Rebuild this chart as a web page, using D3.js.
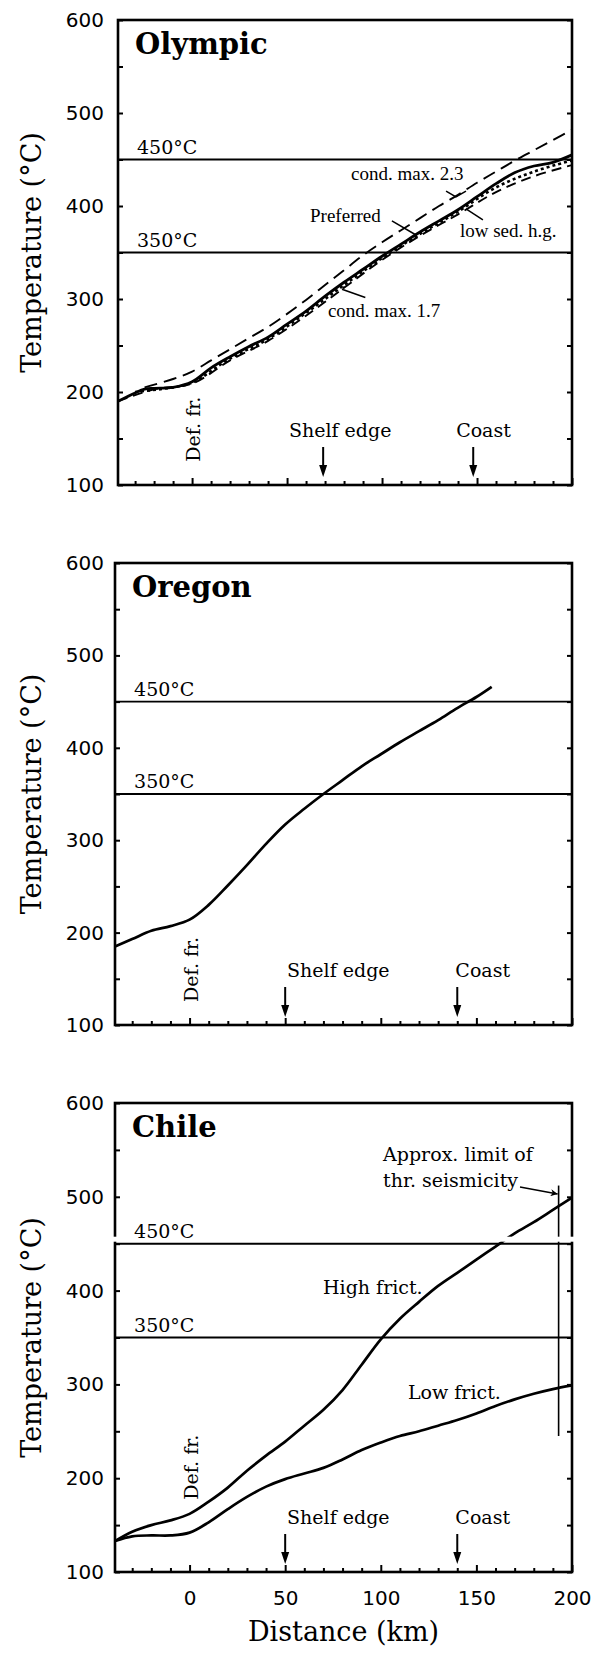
<!DOCTYPE html>
<html>
<head>
<meta charset="utf-8">
<script src="https://cdn.jsdelivr.net/npm/d3@7"></script>
<style>
  body { margin: 0; background: #fff; }
  svg { display: block; }
</style>
</head>
<body>
<svg id="chart" width="604" height="1653"></svg>
<script>
// ---------- data ----------
const distDomain = [-39, 200];
const tempDomain = [100, 600];
const tempTicks = [100, 150, 200, 250, 300, 350, 400, 450, 500, 550, 600];
const tempLabels = [100, 200, 300, 400, 500, 600];
const distMinorTicks = [-30, -20, -10, 10, 20, 30, 40, 60, 70, 80, 90, 110, 120, 130, 140, 160, 170, 180, 190];
const distMajorTicks = [0, 50, 100, 150, 200];
const isotherms = [350, 450];

// Olympic
const olympicDist = [-39, -30, -25, -20, -10, 0, 10, 20, 30, 40, 50, 60, 70, 80, 90, 100, 110, 120, 130, 140, 150, 160, 170, 180, 190, 200];
const olympicPreferred = [190, 199, 203, 204, 205, 211, 226, 238, 249, 259, 273, 287, 303, 318, 332, 346, 359, 372, 384, 396, 410, 424, 436, 443, 447, 455];
const olympicCond23Dist = [-25, -10, 0, 10, 20, 30, 40, 50, 60, 70, 80, 90, 100, 110, 120, 130, 140, 150, 160, 170, 180, 190, 200];
const olympicCond23 = [205, 214, 222, 234, 246, 258, 270, 284, 299, 315, 331, 347, 361, 374, 387, 400, 412, 425, 437, 449, 460, 471, 482];
const olympicCond17Dist = [-39, -20, 0, 20, 40, 60, 80, 100, 120, 140, 160, 180, 200];
const olympicCond17 = [190, 203, 209, 234, 255, 282, 312, 342, 368, 391, 415, 432, 444];
const olympicLowSedDist = [-30, -10, 0, 20, 40, 60, 80, 100, 120, 140, 160, 180, 200];
const olympicLowSed = [200, 205, 210, 236, 257, 285, 315, 344, 370, 394, 420, 437, 449];

// Oregon
const oregonDist = [-39, -30, -20, -10, 0, 10, 20, 30, 40, 50, 60, 70, 80, 90, 100, 110, 120, 130, 140, 150, 158];
const oregonTemp = [185, 193, 202, 207, 214, 230, 251, 273, 296, 317, 334, 350, 365, 380, 393, 406, 418, 430, 443, 455, 466];

// Chile
const chileDist = [-39, -30, -20, -10, 0, 10, 20, 30, 40, 50, 60, 70, 80, 90, 100, 110, 120, 130, 140, 150, 160, 170, 180, 190, 200];
const chileHighFrict = [133, 143, 150, 155, 162, 175, 190, 208, 224, 239, 256, 273, 294, 321, 348, 370, 388, 405, 419, 433, 447, 461, 473, 486, 499];
const chileLowFrict = [133, 138, 139, 139, 142, 153, 167, 180, 191, 199, 205, 211, 220, 230, 238, 245, 250, 256, 262, 269, 277, 284, 290, 295, 299];
const chileSeismicLimit = 193;            // km
const chileSeismicRange = [245, 512];     // °C span of the marker line

// Landmarks along the margin (km)
const olympicLandmarks = [{ label: "Shelf edge", at: 69, textAt: 51 }, { label: "Coast", at: 148, textAt: 139 }];
const oregonLandmarks = [{ label: "Shelf edge", at: 50, textAt: 51 }, { label: "Coast", at: 140, textAt: 139 }];
const chileLandmarks = [{ label: "Shelf edge", at: 50, textAt: 51 }, { label: "Coast", at: 140, textAt: 139 }];

// ---------- layout ----------
const SERIF = "'DejaVu Serif', serif";
const SANS = "'DejaVu Sans', sans-serif";
const TIMES = "'Liberation Serif', 'Times New Roman', serif";

const panels = [
  {
    title: "Olympic", left: 118, right: 572, top: 20, bottom: 485, isoWidth: 2.2, defT: 125,
    curves: [
      { dist: olympicCond23Dist, temp: olympicCond23, dash: "13,7", width: 1.9 },
      { dist: olympicCond17Dist, temp: olympicCond17, dash: "10,6", width: 1.9 },
      { dist: olympicLowSedDist, temp: olympicLowSed, dash: "3,3", width: 2.6 },
      { dist: olympicDist, temp: olympicPreferred, dash: null, width: 2.8 }
    ],
    landmarks: olympicLandmarks,
    notes: [
      { text: "cond. max. 2.3", km: 83.7, t: 428 },
      { text: "Preferred", km: 62.1, t: 382.8 },
      { text: "low sed. h.g.", km: 141, t: 366.7 },
      { text: "cond. max. 1.7", km: 71.5, t: 280.6 }
    ],
    leaders: [
      [[133.7, 416.1], [138.9, 409.7], [144.2, 416.1]],
      [[105.2, 383.9], [117.9, 368.8]],
      [[144.2, 396.8], [153.1, 385.0]],
      [[80.0, 313.5], [79.3, 310.2], [91.2, 301.6]]
    ]
  },
  {
    title: "Oregon", left: 115, right: 572, top: 563, bottom: 1025, isoWidth: 1.8, defT: 125,
    curves: [{ dist: oregonDist, temp: oregonTemp, dash: null, width: 2.7 }],
    landmarks: oregonLandmarks, notes: [], leaders: []
  },
  {
    title: "Chile", left: 115, right: 572, top: 1103, bottom: 1572, isoWidth: 2.0, defT: 177,
    curves: [
      { dist: chileDist, temp: chileHighFrict, dash: null, width: 2.7 },
      { dist: chileDist, temp: chileLowFrict, dash: null, width: 2.7 }
    ],
    landmarks: chileLandmarks,
    notesSerif: [
      { text: "High frict.", km: 69.8, t: 396.4 },
      { text: "Low frict.", km: 114.2, t: 284.4 },
      { text: "Approx. limit of", km: 101.2, t: 538.2 },
      { text: "thr. seismicity", km: 101.2, t: 510.4 }
    ],
    notes: [], leaders: [],
    seismic: true, showDistance: true, spliced: true
  }
];

const svg = d3.select("#chart");
svg.append("rect").attr("width", 604).attr("height", 1653).attr("fill", "#fff");

const defs = svg.append("defs");
defs.append("marker")
  .attr("id", "arrowhead").attr("viewBox", "0 0 10 10")
  .attr("refX", 10).attr("refY", 5)
  .attr("markerWidth", 9).attr("markerHeight", 7)
  .attr("markerUnits", "userSpaceOnUse")
  .attr("orient", "auto")
  .append("path").attr("d", "M0,0 L10,5 L0,10 L3,5 Z").attr("fill", "#000");

function styleAxis(sel, fontFamily, fontSize) {
  sel.select(".domain").remove();
  sel.attr("font-family", fontFamily).attr("font-size", fontSize);
  sel.selectAll(".tick line").attr("stroke", "#000").attr("stroke-width", 2);
  sel.selectAll(".tick text").attr("fill", "#000");
}

panels.forEach(p => {
  const g = svg.append("g");
  const x = d3.scaleLinear().domain(distDomain).range([p.left, p.right]);
  const y = d3.scaleLinear().domain(tempDomain).range([p.bottom, p.top]);

  const clipId = "clip-" + p.title;
  defs.append("clipPath").attr("id", clipId)
    .append("rect").attr("x", p.left).attr("y", p.top)
    .attr("width", p.right - p.left).attr("height", p.bottom - p.top);

  // isotherms
  isotherms.forEach(t => {
    g.append("line")
      .attr("x1", p.left).attr("x2", p.right)
      .attr("y1", y(t)).attr("y2", y(t))
      .attr("stroke", "#000").attr("stroke-width", p.isoWidth);
  });

  // temperature curves
  const line = d3.line()
    .x(d => x(d[0])).y(d => y(d[1]))
    .curve(d3.curveCatmullRom.alpha(0.5));
  const curveG = g.append("g").attr("clip-path", `url(#${clipId})`);
  p.curves.forEach(c => {
    curveG.append("path")
      .datum(c.dist.map((d, i) => [d, c.temp[i]]))
      .attr("d", line)
      .attr("fill", "none")
      .attr("stroke", "#000")
      .attr("stroke-width", c.width)
      .attr("stroke-linejoin", "round")
      .attr("stroke-dasharray", c.dash);
  });

  // seismicity limit marker
  if (p.seismic) {
    g.append("line")
      .attr("x1", x(chileSeismicLimit)).attr("x2", x(chileSeismicLimit))
      .attr("y1", y(chileSeismicRange[1])).attr("y2", y(chileSeismicRange[0]))
      .attr("stroke", "#000").attr("stroke-width", 1.6);
    g.append("line")
      .attr("x1", x(172.8)).attr("y1", y(510.4))
      .attr("x2", x(chileSeismicLimit) - 1).attr("y2", y(503))
      .attr("stroke", "#000").attr("stroke-width", 1.5)
      .attr("marker-end", "url(#arrowhead)");
  }

  // frame
  g.append("rect")
    .attr("x", p.left).attr("y", p.top)
    .attr("width", p.right - p.left).attr("height", p.bottom - p.top)
    .attr("fill", "none").attr("stroke", "#000").attr("stroke-width", 2.6);

  // axes
  const leftAx = g.append("g").attr("transform", `translate(${p.left},0)`)
    .call(d3.axisLeft(y).tickValues(tempTicks).tickSize(-5).tickPadding(p.left - 104)
      .tickFormat(d => tempLabels.includes(d) ? d : ""));
  styleAxis(leftAx, SANS, 20);

  const rightAx = g.append("g").attr("transform", `translate(${p.right},0)`)
    .call(d3.axisRight(y).tickValues(tempTicks).tickSize(-5).tickFormat(""));
  styleAxis(rightAx, SANS, 20);

  const minorAx = g.append("g").attr("transform", `translate(0,${p.bottom})`)
    .call(d3.axisBottom(x).tickValues(distMinorTicks).tickSize(-4).tickFormat(""));
  styleAxis(minorAx, SANS, 20);

  const majorAx = g.append("g").attr("transform", `translate(0,${p.bottom})`)
    .call(d3.axisBottom(x).tickValues(distMajorTicks).tickSize(-7).tickPadding(19)
      .tickFormat(p.showDistance ? (d => d) : ""));
  styleAxis(majorAx, SANS, 20);

  // spliced band above the 450 °C line
  if (p.spliced) {
    g.append("rect")
      .attr("x", p.left - 4).attr("width", p.right - p.left + 8)
      .attr("y", y(450) - 7).attr("height", 5)
      .attr("fill", "#fff");
  }

  // isotherm labels
  isotherms.forEach(t => {
    g.append("text")
      .attr("x", x(-29)).attr("y", y(t) - 6)
      .attr("font-family", SERIF).attr("font-size", 19)
      .text(t + "°C");
  });

  // panel title
  g.append("text")
    .attr("x", p.left + 17).attr("y", p.top + 34)
    .attr("font-family", SERIF).attr("font-weight", "bold").attr("font-size", 29)
    .text(p.title);

  // deformation front label
  g.append("text")
    .attr("transform", `translate(${x(0) + 8},${y(p.defT)}) rotate(-90)`)
    .attr("font-family", SERIF).attr("font-size", 19)
    .text("Def. fr.");

  // shelf edge / coast arrows
  p.landmarks.forEach(m => {
    const ax = x(m.at);
    const tip = p.bottom - 8;
    g.append("line")
      .attr("x1", ax).attr("x2", ax)
      .attr("y1", p.bottom - 38).attr("y2", tip - 8)
      .attr("stroke", "#000").attr("stroke-width", 2);
    g.append("path")
      .attr("d", `M${ax - 4},${tip - 12} L${ax + 4},${tip - 12} L${ax},${tip} Z`)
      .attr("fill", "#000");
    g.append("text")
      .attr("x", x(m.textAt)).attr("y", p.bottom - 48)
      .attr("font-family", SERIF).attr("font-size", 19)
      .text(m.label);
  });

  // curve notes
  p.notes.forEach(n => {
    g.append("text")
      .attr("x", x(n.km)).attr("y", y(n.t))
      .attr("font-family", TIMES).attr("font-size", 19)
      .text(n.text);
  });
  (p.notesSerif || []).forEach(n => {
    g.append("text")
      .attr("x", x(n.km)).attr("y", y(n.t))
      .attr("font-family", SERIF).attr("font-size", 19)
      .text(n.text);
  });
  const leaderLine = d3.line().x(d => x(d[0])).y(d => y(d[1]));
  p.leaders.forEach(l => {
    g.append("path").attr("d", leaderLine(l))
      .attr("fill", "none").attr("stroke", "#000").attr("stroke-width", 1.5);
  });

  // vertical axis title
  g.append("text")
    .attr("transform", `translate(41,${(p.top + p.bottom) / 2}) rotate(-90)`)
    .attr("text-anchor", "middle")
    .attr("font-family", SERIF).attr("font-size", 27)
    .text("Temperature (°C)");

  if (p.showDistance) {
    g.append("text")
      .attr("x", (p.left + p.right) / 2).attr("y", 1641)
      .attr("text-anchor", "middle")
      .attr("font-family", SERIF).attr("font-size", 27)
      .text("Distance (km)");
  }
});
</script>
</body>
</html>
